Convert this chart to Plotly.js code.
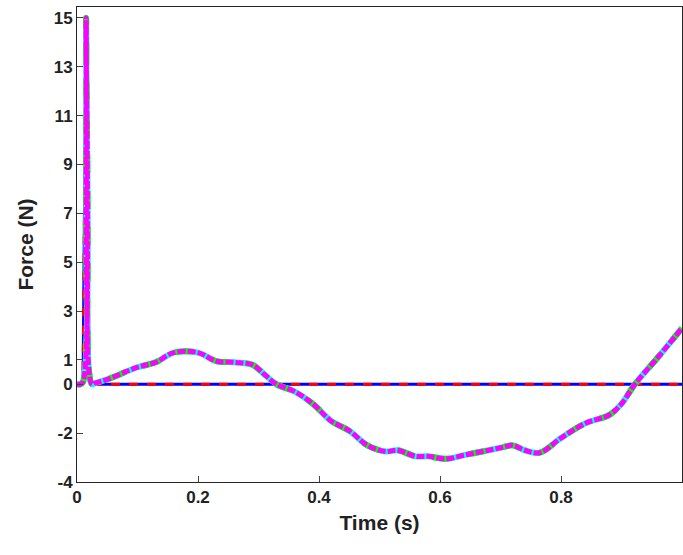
<!DOCTYPE html><html><head><script src="https://cdn.plot.ly/plotly-3.0.1.min.js"></script>
<style>body{margin:0}</style></head><body><div id="c" style="width:683px;height:555px"></div><script>
const t = [0,0.005,0.01,0.015,0.02,0.025,0.03,0.05,0.1,0.13,0.16,0.2,0.23,0.26,0.29,0.31,0.33,0.36,0.39,0.42,0.45,0.48,0.51,0.53,0.56,0.58,0.61,0.64,0.67,0.7,0.72,0.74,0.765,0.8,0.84,0.88,0.9,0.922,0.96,1.0];
const force = [0,0,0.1,15,0.5,0,0.05,0.2,0.7,0.9,1.3,1.3,0.95,0.9,0.8,0.4,0,-0.3,-0.8,-1.5,-1.9,-2.5,-2.75,-2.7,-2.95,-2.95,-3.05,-2.9,-2.75,-2.6,-2.5,-2.7,-2.8,-2.2,-1.6,-1.25,-0.8,0,1.1,2.3];
const tZero = [0,0.01,0.015,0.02,0.025,1.0];
const fZero = [0,0.1,15,0.5,0,0];
const f = {family:'Liberation Sans, Arial, sans-serif', size:17, color:'#222'};
Plotly.newPlot('c',[
 {x:tZero,y:fZero,mode:'lines',line:{color:'#0000ff',width:3}},
 {x:tZero,y:fZero,mode:'lines',line:{color:'#ff0000',width:3,dash:'dash'}},
 {x:t,y:force,mode:'lines',line:{color:'#00ffff',width:6,shape:'spline'}},
 {x:t,y:force,mode:'lines',line:{color:'#00ff00',width:6,shape:'spline',dash:'dash'}},
 {x:t,y:force,mode:'lines',line:{color:'#ff00ff',width:5,shape:'spline',dash:'8px,2px'}}
],{
 width:683,height:555,showlegend:false,paper_bgcolor:'#fff',plot_bgcolor:'#fff',
 margin:{l:77,r:1,t:7,b:73},
 font:{family:'Liberation Sans, Arial, sans-serif'},
 xaxis:{range:[0,1],tickvals:[0,0.2,0.4,0.6,0.8,1],ticktext:['<b>0</b>','<b>0.2</b>','<b>0.4</b>','<b>0.6</b>','<b>0.8</b>','<b>1</b>'],ticks:'inside',ticklen:6,showgrid:false,zeroline:false,showline:true,mirror:true,linecolor:'#262626',tickfont:f,title:{text:'<b>Time (s)</b>',font:{...f,size:21},standoff:8}},
 yaxis:{range:[-4,15.45],tickvals:[15,13,11,9,7,5,3,1,0,-2,-4],ticktext:['<b>15</b>','<b>13</b>','<b>11</b>','<b>9</b>','<b>7</b>','<b>5</b>','<b>3</b>','<b>1</b>','<b>0</b>','<b>-2</b>','<b>-4</b>'],ticks:'inside',ticklen:6,showgrid:false,zeroline:false,showline:true,mirror:true,linecolor:'#262626',tickfont:f,title:{text:'<b>Force (N)</b>',font:{...f,size:21},standoff:14}}
},{displayModeBar:false});
</script></body></html>
